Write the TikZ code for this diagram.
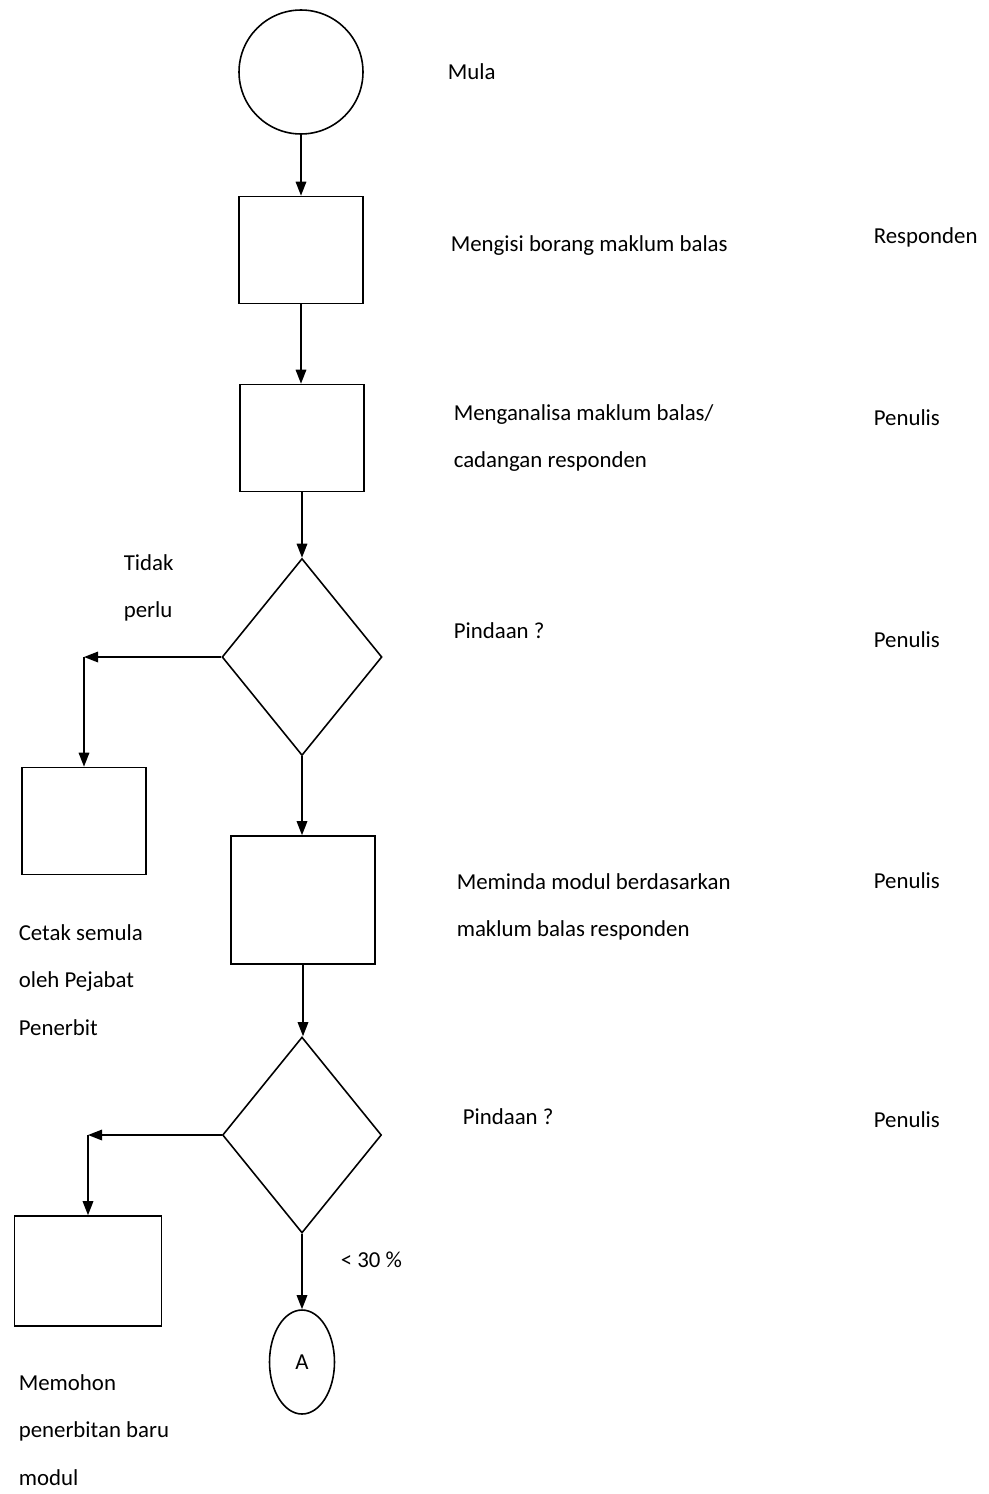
\documentclass[tikz,border=0pt]{standalone}
\usepackage{fontspec}
\setmainfont{Carlito}
\usetikzlibrary{shapes.geometric}
\usetikzlibrary{arrows.meta}
\usetikzlibrary{positioning}

\begin{document}
\begin{tikzpicture}[x=0.02cm,y=-0.02cm,line width=0.9pt,
			font=\fontsize{13}{27}\selectfont]
			\tikzstyle{proses}=[draw,rectangle,minimum width=2.48cm,minimum height=2.14cm,inner sep=0pt]
			\tikzstyle{keputusan}=[draw,diamond,minimum width=3.2cm,minimum height=3.94cm,inner sep=0pt]
			\tikzstyle{teks}=[anchor=west,align=left,inner sep=0pt]
			\tikzstyle{panah}=[-{Triangle[length=8pt,width=6pt]}]
			
			\useasboundingbox (0,0) rectangle (988,1494);
			
			% carta alir
			\node[draw,circle,minimum size=2.48cm] (mula) at (301,72) {};
			\node[proses] (isi) at (301,250) {};
			\node[proses] (analisa) at (302,438) {};
			\node[keputusan] (pinda1) at (302,657) {};
			\node[proses] (cetak) at (84,821) {};
			\node[proses,minimum width=2.88cm,minimum height=2.56cm] (meminda) at (303,900) {};
			\node[keputusan,minimum width=3.18cm,minimum height=3.92cm] (pinda2) at (302,1135) {};
			\node[proses,minimum width=2.94cm,minimum height=2.2cm] (mohon) at (88,1271) {};
			\node[draw,ellipse,minimum width=1.3cm,minimum height=2.08cm,inner sep=0pt] (A) at (302,1362) {A};
			
			\coordinate (sudut1) at (pinda1.west -| cetak.north);
			\coordinate (sudut2) at (pinda2.west -| mohon.north);
			
			\draw[panah] (mula.south) -- (mula.south |- isi.north);
			\draw[panah] (isi.south) -- (isi.south |- analisa.north);
			\draw[panah] (analisa.south) -- (pinda1.north);
			\draw[panah] (pinda1.west) -- (sudut1);
			\draw[panah] (sudut1) -- (cetak.north);
			\draw[panah] (pinda1.south) -- (pinda1.south |- meminda.north);
			\draw[panah] (meminda.south) -- (meminda.south |- pinda2.north);
			\draw[panah] (pinda2.west) -- (sudut2);
			\draw[panah] (sudut2) -- (mohon.north);
			\draw[panah] (pinda2.south) -- (A.north);
			
			% keterangan
			\node[teks] (tMula) at (447,72) {Mula};
			\node[teks] (tIsi) at (450,246) {Mengisi borang maklum balas};
			\node[teks] (tResp) at (873,237) {Responden};
			\node[teks] (tAnalisa) at (453,438) {Menganalisa maklum balas/\\cadangan responden};
			\node[teks] (tPen1) at (873,418) {Penulis};
			\node[teks] (tPinda1) at (453,631) {Pindaan ?};
			\node[teks] (tPen2) at (873,640) {Penulis};
			\node[teks] (tMeminda) at (456,907) {Meminda modul berdasarkan\\maklum balas responden};
			\node[teks] (tPen3) at (873,881) {Penulis};
			\node[teks] (tPinda2) at (462,1117) {Pindaan ?};
			\node[teks] (tPen4) at (873,1120) {Penulis};
			\node[teks] (tTidak) at (123,588) {Tidak\\perlu};
			\node[teks] (tCetak) at (18,980) {Cetak semula\\oleh Pejabat\\Penerbit};
			\node[teks] (tMohon) at (18,1430) {Memohon\\penerbitan baru\\modul};
			\node[teks] (tKurang) at (340,1260) {< 30 \%};
\end{tikzpicture}
\end{document}
